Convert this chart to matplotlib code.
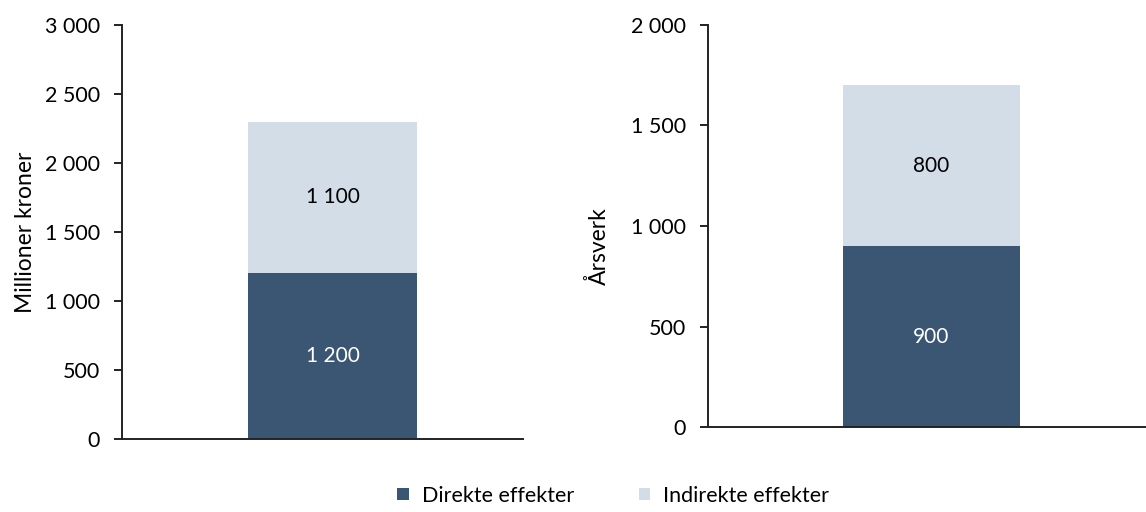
import matplotlib.pyplot as plt
from matplotlib.patches import Patch

plt.rcParams['font.family'] = ['Lato', 'DejaVu Sans']

series = ["Direkte effekter", "Indirekte effekter"]
colors = ["#3a5673", "#d3dde8"]
label_colors = ["white", "black"]

kroner_values = [1200, 1100]
arsverk_values = [900, 800]

kroner_ticks = [0, 500, 1000, 1500, 2000, 2500, 3000]
arsverk_ticks = [0, 500, 1000, 1500, 2000]


def fmt(v):
    return f"{v:,}".replace(",", " ")


fig = plt.figure(figsize=(11.46, 5.12), dpi=100)
ax1 = fig.add_axes([0.1065, 0.1426, 0.3499, 0.8086])
ax2 = fig.add_axes([0.6178, 0.1660, 0.3822, 0.7852])


def draw(ax, values, ticks, ylabel, width, xlim, label_xy):
    bottom = 0
    for v, c, lc in zip(values, colors, label_colors):
        ax.bar([0], [v], bottom=bottom, width=width, color=c, zorder=2)
        ax.text(0, bottom + v / 2, fmt(v), ha="center", va="center",
                color=lc, fontsize=15)
        bottom += v
    ax.set_xlim(*xlim)
    ax.set_ylim(ticks[0], ticks[-1])
    ax.set_yticks(ticks)
    ax.set_yticklabels([fmt(t) for t in ticks], fontsize=15.5)
    ax.set_xticks([])
    for s in ("top", "right"):
        ax.spines[s].set_visible(False)
    for s in ("left", "bottom"):
        ax.spines[s].set_linewidth(1.4)
        ax.spines[s].set_color("#222222")
    ax.tick_params(axis="y", length=6, width=1.4, color="#222222", pad=10)
    ax.set_ylabel(ylabel, fontsize=16.5)
    ax.yaxis.set_label_coords(*label_xy)


draw(ax1, kroner_values, kroner_ticks, "Millioner kroner", 0.84,
     (-1.05, 0.95), (-0.215, 0.5))
draw(ax2, arsverk_values, arsverk_ticks, "Årsverk", 0.81,
     (-1.02, 0.98), (-0.225, 0.45))

handles = [Patch(facecolor=c, edgecolor="none") for c in colors]
fig.legend(handles, series, loc="center", bbox_to_anchor=(0.535, 0.032),
           ncol=2, frameon=False, fontsize=15.5, handlelength=0.55,
           handleheight=0.55, handletextpad=0.6, columnspacing=3.0)

fig.savefig("out.png", dpi=100)
